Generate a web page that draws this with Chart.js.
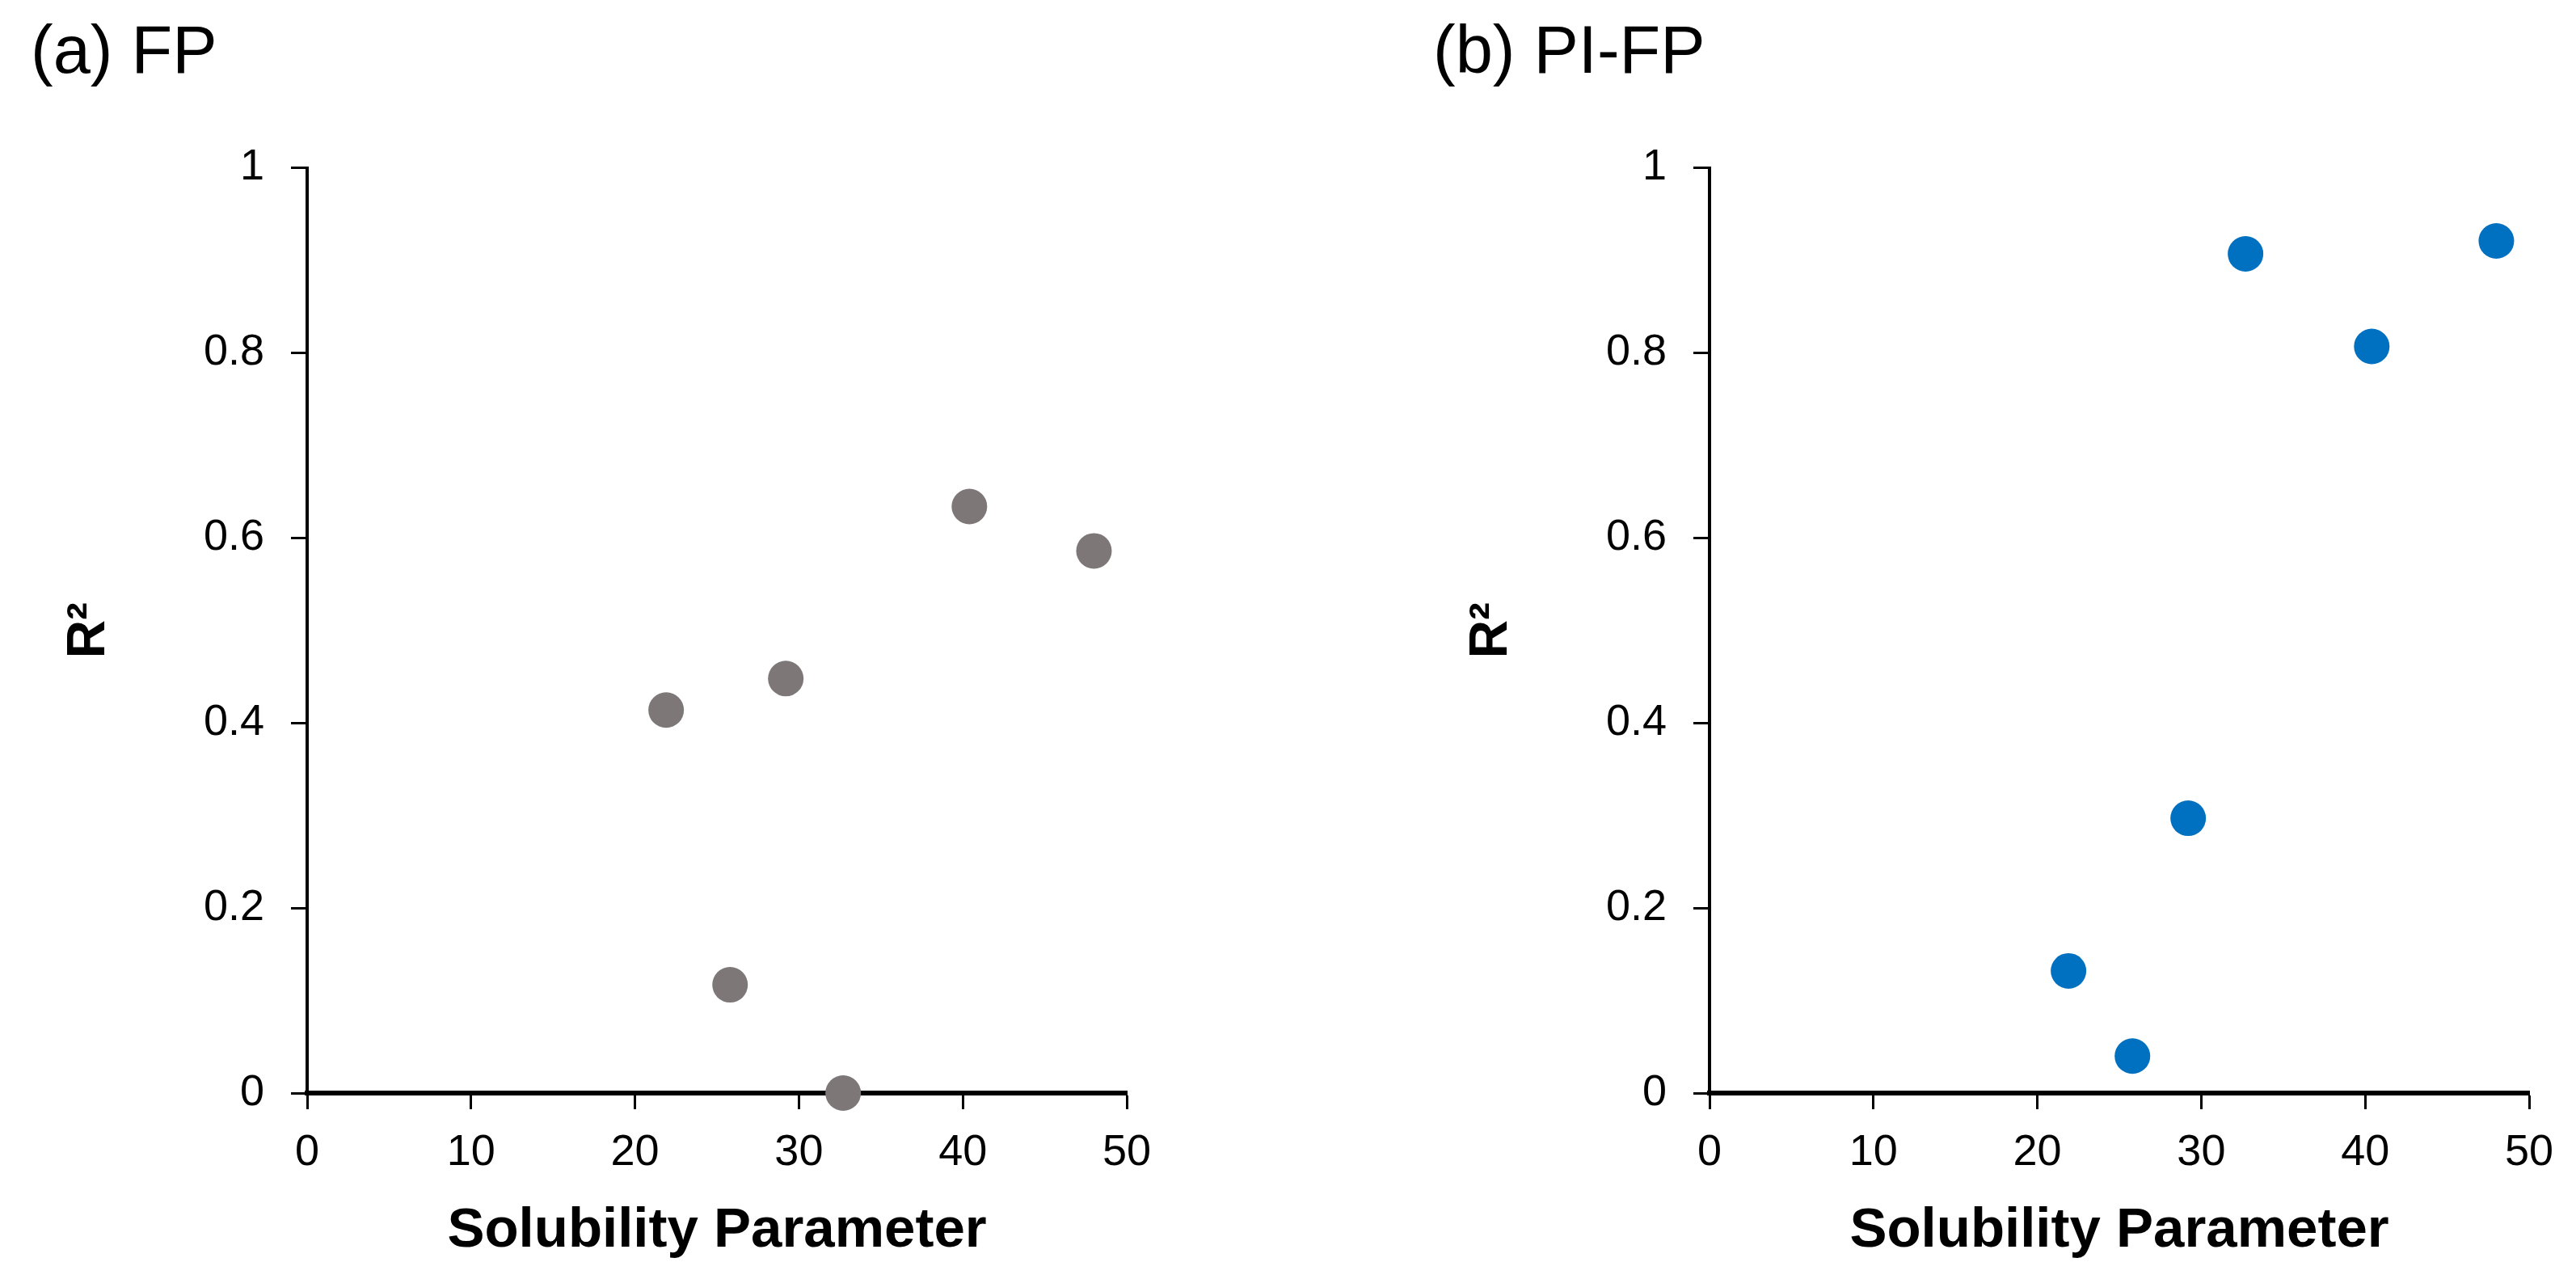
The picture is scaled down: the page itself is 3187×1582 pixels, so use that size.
<!DOCTYPE html>
<html>
<head>
<meta charset="utf-8">
<script src="https://cdn.jsdelivr.net/npm/chart.js@4/dist/chart.umd.min.js"></script>
<style>
  html, body { margin: 0; padding: 0; background: #ffffff; }
  body { width: 3187px; height: 1582px; position: relative; overflow: hidden; }
  canvas { position: absolute; top: 0; }
  #c1 { left: 0px; }
  #c2 { left: 1735px; }
</style>
</head>
<body>
<canvas id="c1" width="1452" height="1582"></canvas>
<canvas id="c2" width="1452" height="1582"></canvas>
<script>
// ---- data ----
const solubilityParameter = [21.9, 25.8, 29.2, 32.7, 40.4, 48.0];
const r2FP   = [0.414, 0.117, 0.448, 0.0, 0.634, 0.586];
const r2PIFP = [0.132, 0.040, 0.297, 0.907, 0.807, 0.921];
const panelTitles = ['(a) FP', '(b) PI-FP'];
const xTickLabels = ['0', '10', '20', '30', '40', '50'];
const yTickLabels = ['0', '0.2', '0.4', '0.6', '0.8', '1'];
const xAxisTitle = 'Solubility Parameter';
const yAxisTitle = 'R\u00B2';
const seriesColors = ['#7E7778', '#0070C0'];

const tickFamily = "'Liberation Sans', Arial, sans-serif";

function makeChart(canvasId, title, values, color) {
  const pts = solubilityParameter.map((x, i) => ({ x: x, y: values[i] }));
  return new Chart(document.getElementById(canvasId), {
    type: 'scatter',
    data: {
      datasets: [{
        data: pts,
        backgroundColor: color,
        borderColor: color,
        borderWidth: 0,
        pointRadius: 22,
        pointHoverRadius: 22,
        showLine: false,
        clip: false
      }]
    },
    options: {
      responsive: false,
      animation: false,
      devicePixelRatio: 1,
      layout: { padding: { left: 38, top: 0, right: 58, bottom: 0 } },
      plugins: {
        legend: { display: false },
        tooltip: { enabled: false },
        title: {
          display: true,
          text: title,
          align: 'start',
          color: '#000',
          font: { family: tickFamily, size: 83, weight: 'normal', lineHeight: 1.2 },
          padding: { top: 17, bottom: 91 }
        }
      },
      scales: {
        x: {
          type: 'linear',
          min: 0, max: 50,
          afterBuildTicks: (s) => { s.ticks = xTickLabels.map(v => ({ value: Number(v) })); },
          ticks: {
            callback: (v, i) => xTickLabels[i],
            color: '#000',
            font: { family: tickFamily, size: 54 },
            padding: 22,
            maxRotation: 0,
            autoSkip: false
          },
          grid: { drawOnChartArea: false, drawTicks: true, tickLength: 20, tickWidth: 3, tickColor: '#000' },
          border: { display: true, color: '#000', width: 6 },
          title: {
            display: true,
            text: xAxisTitle,
            color: '#000',
            font: { family: tickFamily, size: 69, weight: 'bold', lineHeight: 1.2 },
            padding: { top: 0, bottom: 18 }
          },
          afterFit: (s) => { s.height = 230; }
        },
        y: {
          type: 'linear',
          min: 0, max: 1,
          afterBuildTicks: (s) => { s.ticks = yTickLabels.map(v => ({ value: Number(v) })); },
          ticks: {
            callback: (v, i) => yTickLabels[i],
            color: '#000',
            font: { family: tickFamily, size: 54 },
            padding: 33,
            autoSkip: false
          },
          grid: { drawOnChartArea: false, drawTicks: true, tickLength: 20, tickWidth: 3, tickColor: '#000' },
          border: { display: true, color: '#000', width: 4 },
          title: {
            display: true,
            text: yAxisTitle,
            color: '#000',
            font: { family: tickFamily, size: 66, weight: 'bold', lineHeight: 1.2 },
            padding: { top: 33, bottom: 0 }
          },
          afterFit: (s) => { s.width = 342; }
        }
      }
    }
  });
}

makeChart('c1', panelTitles[0], r2FP, seriesColors[0]);
makeChart('c2', panelTitles[1], r2PIFP, seriesColors[1]);
</script>
</body>
</html>
